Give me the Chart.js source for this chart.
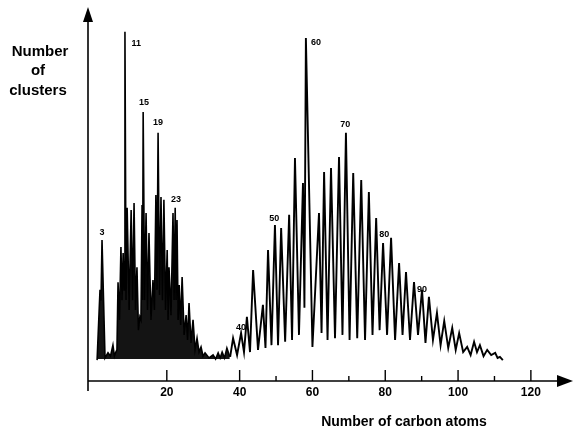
<!DOCTYPE html>
<html>
<head>
<meta charset="utf-8">
<script src="https://cdn.jsdelivr.net/npm/chart.js@4"></script>
<style>
  body { margin: 0; background: #fff; }
  #wrap { width: 573px; height: 436px; position: relative; }
</style>
</head>
<body>
<div id="wrap"><canvas id="chart"></canvas></div>
<script>
// Small clusters (C3 .. C36): peak positions / heights, and the trace level between peaks
const smallPeakX = [1.65, 2.2, 3.85, 5.2, 6.0, 6.6, 7.4, 8.0, 8.5, 9.1, 10.2, 11.0, 11.8, 12.6, 13.2, 13.5, 14.3, 15.1, 16.2, 17.0,
  17.6, 18.4, 19.2, 20.1, 20.6, 21.7, 22.3, 22.8, 23.4, 24.2, 25.3, 26.1, 27.2, 28.3, 29.4, 30.5, 32.7, 34.1, 35.2, 36.5];
const smallPeakY = [24.9, 38.5, 7.7, 9.8, 7.9, 27.0, 36.6, 35.0, 95.4, 47.3, 46.7, 48.6, 31.1, 17.5, 48.1, 73.5, 45.9, 40.4, 27.6, 50.8,
  67.8, 50.3, 49.5, 35.8, 31.1, 45.9, 47.3, 44.0, 26.2, 28.4, 18.0, 21.3, 16.7, 11.7, 9.3, 7.7, 7.1, 7.7, 7.9, 9.0];
const smallValleyY = [5.7, 22, 6.3, 6.8, 6.8, 8.5, 16.7, 22.1, 24.9, 22.1, 19.4, 22.1, 19.4, 13.9, 16.7, 22.1, 22.1, 19.4, 16.7, 19.4,
  24.9, 23.5, 22.1, 19.4, 16.7, 18.0, 22.1, 22.1, 16.7, 15.3, 12.6, 11.2, 10.4, 8.5, 7.9, 6.8, 6.3, 6.0, 6.3, 6.3, 6.6];

// Large clusters (C38 .. C112), even numbers
const largePeakX = [38.2, 40.4, 42.0, 43.7, 46.4, 47.8, 49.7, 51.4, 53.6, 55.2, 57.4, 58.2, 61.8, 63.2, 65.1, 67.3, 69.2, 71.2, 73.4,
  75.5, 77.5, 79.4, 81.6, 83.8, 85.7, 87.9, 90.1, 92.0, 94.2, 96.2, 98.4, 100.3, 102.5, 104.4, 106.0, 108.0, 110.2, 111.5];
const largePeakY = [11.7, 13.1, 17.5, 30.3, 20.8, 35.8, 42.6, 41.8, 45.4, 60.9, 54.1, 93.7, 45.9, 57.1, 58.2, 61.2, 67.8, 56.8, 54.9,
  51.6, 44.5, 37.7, 39.1, 32.2, 29.8, 27.0, 24.9, 23.0, 18.6, 16.4, 14.5, 13.1, 9.3, 10.7, 9.8, 8.5, 7.7, 6.6];
const largeValleyY = [6.6, 7.1, 7.9, 7.9, 8.5, 9.0, 9.8, 9.8, 10.7, 11.2, 12.6, 20, 9.3, 13.1, 11.2, 11.7, 12.6, 11.2, 11.7, 11.2,
  12.6, 13.9, 12.6, 11.2, 12.6, 11.2, 12.6, 10.4, 11.2, 9.8, 9.0, 8.5, 7.9, 7.1, 7.9, 6.8, 7.1, 6.3, 5.7];

// peak labels
const labelText = ['3', '11', '15', '19', '23', '40', '50', '60', '70', '80', '90'];
const labelX = [2.2, 11.6, 13.7, 17.6, 22.5, 40.4, 49.5, 61.0, 69.0, 79.7, 90.1];
const labelY = [40.7, 92.3, 76.2, 70.5, 49.5, 14.5, 44.5, 92.6, 70.0, 39.9, 24.9];

// axis ticks
const majorTicks = [20, 40, 60, 80, 100, 120];
const minorTicks = [50, 70, 90, 110];

function buildTrace(px, py, vy) {
  const pts = [{ x: px[0] - 0.8, y: vy[0] }];
  for (let i = 0; i < px.length; i++) {
    pts.push({ x: px[i], y: py[i] });
    const nx = i < px.length - 1 ? (px[i] + px[i + 1]) / 2 : px[i] + 0.8;
    pts.push({ x: nx, y: vy[i + 1] });
  }
  return pts;
}

const axesPlugin = {
  id: 'axes',
  afterDraw(chart) {
    const ctx = chart.ctx;
    const xs = chart.scales.x;
    const area = chart.chartArea;
    const x0 = area.left, y0 = area.bottom;
    ctx.save();
    ctx.strokeStyle = '#000';
    ctx.fillStyle = '#000';
    ctx.lineWidth = 1.6;
    // y axis
    ctx.beginPath();
    ctx.moveTo(x0, 18);
    ctx.lineTo(x0, y0 + 10);
    ctx.stroke();
    ctx.beginPath();
    ctx.moveTo(x0, 7);
    ctx.lineTo(x0 - 5, 22);
    ctx.lineTo(x0 + 5, 22);
    ctx.closePath();
    ctx.fill();
    // x axis
    ctx.beginPath();
    ctx.moveTo(x0, y0);
    ctx.lineTo(560, y0);
    ctx.stroke();
    ctx.beginPath();
    ctx.moveTo(573, y0);
    ctx.lineTo(557, y0 - 6);
    ctx.lineTo(557, y0 + 6);
    ctx.closePath();
    ctx.fill();
    // ticks
    ctx.lineWidth = 1.4;
    majorTicks.forEach(v => {
      const px = xs.getPixelForValue(v);
      ctx.beginPath();
      ctx.moveTo(px, y0 - 11);
      ctx.lineTo(px, y0);
      ctx.stroke();
    });
    minorTicks.forEach(v => {
      const px = xs.getPixelForValue(v);
      ctx.beginPath();
      ctx.moveTo(px, y0 - 5);
      ctx.lineTo(px, y0);
      ctx.stroke();
    });
    // tick labels
    ctx.textAlign = 'center';
    ctx.textBaseline = 'middle';
    ctx.font = 'bold 12px "Liberation Sans", Arial, sans-serif';
    majorTicks.forEach(v => {
      ctx.fillText(String(v), xs.getPixelForValue(v), y0 + 12);
    });
    // axis titles
    ctx.font = 'bold 14px "Liberation Sans", Arial, sans-serif';
    ctx.fillText('Number of carbon atoms', 404, 422);
    ctx.font = 'bold 15px "Liberation Sans", Arial, sans-serif';
    ctx.fillText('Number', 40, 52);
    ctx.fillText('of', 38, 71);
    ctx.fillText('clusters', 38, 91);
    // peak labels
    const ys = chart.scales.y;
    ctx.font = 'bold 9px "Liberation Sans", Arial, sans-serif';
    labelText.forEach((t, i) => {
      ctx.fillText(t, xs.getPixelForValue(labelX[i]), ys.getPixelForValue(labelY[i]));
    });
    ctx.restore();
  }
};

new Chart(document.getElementById('chart'), {
  type: 'line',
  data: {
    datasets: [{
      data: buildTrace(smallPeakX, smallPeakY, smallValleyY),
      borderColor: '#000',
      backgroundColor: 'rgba(0,0,0,0.92)',
      borderWidth: 1.6,
      fill: { value: 6 },
      pointRadius: 0,
      tension: 0
    }, {
      data: buildTrace(largePeakX, largePeakY, largeValleyY),
      borderColor: '#000',
      borderWidth: 1.9,
      fill: false,
      pointRadius: 0,
      tension: 0
    }]
  },
  options: {
    responsive: true,
    maintainAspectRatio: false,
    animation: false,
    layout: { padding: { left: 88, right: 13, top: 15, bottom: 55 } },
    plugins: { legend: { display: false }, tooltip: { enabled: false } },
    scales: {
      x: { type: 'linear', min: -1.65, max: 128, display: false },
      y: { min: 0, max: 100, display: false }
    }
  },
  plugins: [axesPlugin]
});
</script>
</body>
</html>
